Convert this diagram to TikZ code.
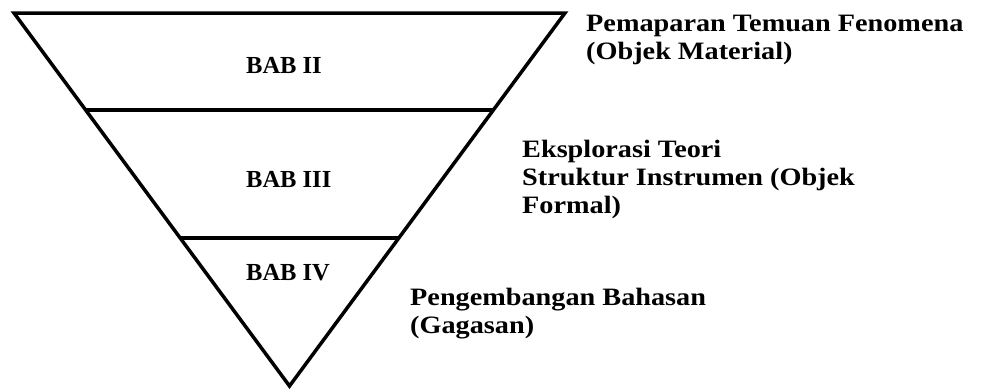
\documentclass[tikz,border=0pt]{standalone}
\usepackage{fontspec}
\setmainfont{Liberation Serif}
\newfontfamily\sidefont[FakeStretch=1.13]{Liberation Serif}
\usetikzlibrary{calc}
\tikzset{
  edge/.style={line width=3.5pt, line join=miter},
  bablabel/.style={anchor=base west, inner sep=0pt, font=\fontsize{24.5}{28}\selectfont\bfseries},
  sidelabel/.style={anchor=base west, inner sep=0pt, align=left, font=\sidefont\fontsize{25}{28}\selectfont\bfseries}
}
\begin{document}
\begin{tikzpicture}[x=1pt,y=-1pt]
\useasboundingbox (0,0) rectangle (985,389);
\coordinate (TL) at (14,13);
\coordinate (TR) at (565,13);
\coordinate (A) at (289.5,386);
\coordinate (L1) at ($(TL)!0.26!(A)$);
\coordinate (R1) at ($(TR)!0.26!(A)$);
\coordinate (L2) at ($(TL)!0.603!(A)$);
\coordinate (R2) at ($(TR)!0.603!(A)$);
\draw[edge] (TL) -- (TR) -- (A) -- cycle;
\draw[edge] (L1) -- (R1);
\draw[edge] (L2) -- (R2);
\node[bablabel] (b2) at (246,73) {BAB II};
\node[bablabel] (b3) at (246,187) {BAB III};
\node[bablabel] (b4) at (246,280) {BAB IV};
\node[sidelabel] (t1) at (586,59) {Pemaparan Temuan Fenomena\\(Objek Material)};
\node[sidelabel] (t2) at (522,213) {Eksplorasi Teori\\Struktur Instrumen (Objek\\Formal)};
\node[sidelabel] (t3) at (410,333) {Pengembangan Bahasan\\(Gagasan)};
\end{tikzpicture}
\end{document}
